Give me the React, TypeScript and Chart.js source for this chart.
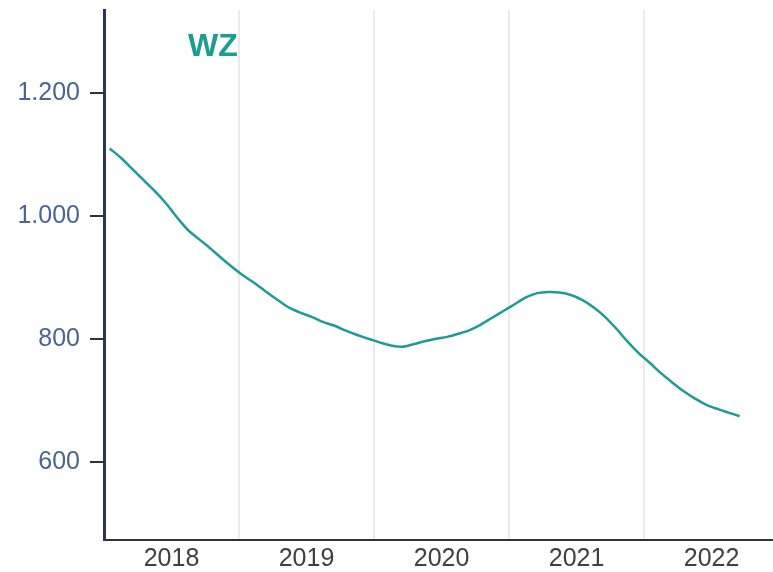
import React, { useEffect, useRef } from "react";
import { Chart, registerables } from "chart.js";

Chart.register(...registerables);

const startYear = 2018;
const yearLabels = ["2018", "2019", "2020", "2021", "2022"];
const yTicks = [600, 800, 1000, 1200];
const titleText = "WZ";
// monthly values Jan 2018 .. Sep 2022
const wzValues = [
  1110, 1095, 1077, 1059, 1041, 1021, 998, 977, 962, 947, 931, 916,
  902, 890, 876, 863, 851, 843, 836, 828, 822, 814, 807, 801,
  795, 790, 788, 792, 797, 801, 804, 809, 815, 824, 835, 846,
  857, 868, 875, 877, 876, 872, 864, 852, 837, 818, 797, 778,
  762, 745, 730, 716, 704, 694, 687, 681, 675,
];

const TEAL = "#1b9c94";

const fmt = (v: number) => {
  const s = Math.round(v).toString();
  return s.length > 3 ? s.slice(0, s.length - 3) + "." + s.slice(-3) : s;
};

export default function App() {
  const ref = useRef<HTMLCanvasElement | null>(null);
  useEffect(() => {
    document.body.style.margin = "0";
    if (!ref.current) return;
    const points = wzValues.map((v, i) => ({
      x: startYear + (i + 0.5) / 12,
      y: v,
    }));
    const titlePlugin = {
      id: "wzTitle",
      afterDraw(chart: any) {
        const { ctx, chartArea } = chart;
        ctx.save();
        ctx.font = "bold 32px 'Liberation Sans', Arial, sans-serif";
        ctx.fillStyle = TEAL;
        ctx.textBaseline = "middle";
        ctx.textAlign = "left";
        ctx.fillText(titleText, chartArea.left + 84, chartArea.top + 37);
        ctx.restore();
      },
    };
    const chart = new Chart(ref.current, {
      type: "line",
      data: {
        datasets: [
          {
            label: titleText,
            data: points,
            borderColor: TEAL,
            borderWidth: 2.5,
            pointRadius: 0,
            tension: 0.3,
            fill: false,
          },
        ],
      },
      options: {
        animation: false,
        responsive: false,
        layout: { padding: { top: 10, right: 0, left: 0, bottom: 0 } },
        plugins: {
          legend: { display: false },
          tooltip: { enabled: false },
          title: { display: false },
        },
        scales: {
          x: {
            type: "linear",
            min: startYear,
            max: startYear + 4.955,
            afterBuildTicks: (scale: any) => {
              const t: any[] = [];
              yearLabels.forEach((_, i) => {
                t.push({ value: startYear + i });
                t.push({ value: startYear + i + 0.5 });
              });
              scale.ticks = t;
            },
            afterFit: (scale: any) => {
              scale.height = 32;
              scale.paddingLeft = 0;
              scale.paddingRight = 0;
            },
            grid: {
              drawTicks: false,
              lineWidth: 2,
              color: (ctx: any) => {
                const v = ctx.tick ? ctx.tick.value : 0;
                return Number.isInteger(v) && v > startYear ? "#ebebeb" : "rgba(0,0,0,0)";
              },
            },
            border: { display: true, color: "#333333", width: 2 },
            ticks: {
              autoSkip: false,
              maxRotation: 0,
              padding: 4,
              color: "#404040",
              font: { size: 25, family: "'Liberation Sans', Arial, sans-serif" },
              callback: (v: any) => {
                const idx = Math.floor(Number(v) - startYear);
                return Number.isInteger(Number(v)) ? "" : yearLabels[idx];
              },
            },
          },
          y: {
            min: 474,
            max: 1335,
            afterBuildTicks: (scale: any) => {
              scale.ticks = yTicks.map((v) => ({ value: v }));
            },
            afterFit: (scale: any) => {
              scale.width = 104;
              scale.paddingTop = 0;
              scale.paddingBottom = 0;
            },
            grid: {
              drawOnChartArea: false,
              drawTicks: true,
              tickLength: 14,
              lineWidth: 2,
              color: "#333333",
            },
            border: { display: true, color: "#2c3552", width: 3 },
            ticks: {
              padding: 10,
              color: "#4a6591",
              font: { size: 25, family: "'Liberation Sans', Arial, sans-serif" },
              callback: (v: any) => fmt(Number(v)),
            },
          },
        },
      },
      plugins: [titlePlugin],
    });
    return () => chart.destroy();
  }, []);
  return (
    <div style={{ width: 773, height: 572, background: "#ffffff" }}>
      <canvas ref={ref} width={773} height={572} style={{ width: 773, height: 572, display: "block" }} />
    </div>
  );
}
